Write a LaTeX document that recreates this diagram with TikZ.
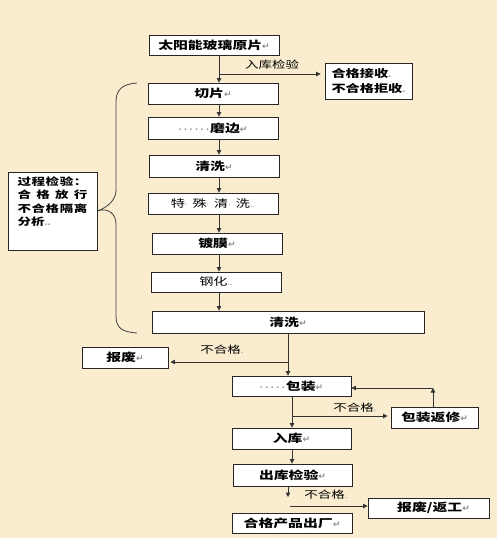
\documentclass[tikz,border=0pt]{standalone}
\usepackage{fontspec}
\newfontfamily\cjk[FakeStretch=1.35]{Noto Sans CJK SC}
\newfontfamily\djv{DejaVu Sans}
\usetikzlibrary{arrows.meta}
\definecolor{bg}{RGB}{249,236,207}
\definecolor{mk}{RGB}{140,140,140}
\newcommand\parmark{{\djv\fontsize{9}{9}\selectfont\color{mk}↵}}
\newcommand\smdot{{\djv\fontsize{8}{8}\selectfont\color{mk}.}}
\newcommand\gdot{{\djv\fontsize{8}{8}\selectfont\color{mk}·}}
\newcommand\gdots[1]{{\djv\fontsize{8}{8}\selectfont\color{mk}#1}}
\begin{document}
\begin{tikzpicture}[x=1pt,y=-1pt,
  box/.style={draw=black!85, line width=0.9pt, fill=white, inner sep=0pt,
    font=\cjk\bfseries\fontsize{11}{13}\selectfont},
  arr/.style={draw=black!80, line width=0.8pt, -{Triangle[width=4.5pt,length=4.5pt]}},
  lab/.style={font=\cjk\fontsize{10}{12}\selectfont, inner sep=0pt},
  brace/.style={draw=black!75, line width=0.8pt}]
\fill[bg] (0,0) rectangle (497,538);
\useasboundingbox (0,0) rectangle (497,538);

% boxes
\node[box, minimum width=130pt, minimum height=20pt] (raw) at (214,45) {太阳能玻璃原片\parmark};
\node[box, minimum width=87pt, minimum height=36pt, align=left,
  font=\cjk\bfseries\fontsize{10.5}{15}\selectfont] (accept) at (368.5,81) {合格接收\smdot\\不合格拒收\smdot};
\node[box, minimum width=130pt, minimum height=21pt] (cut) at (213,93.5) {切片\parmark};
\node[box, minimum width=130pt, minimum height=22pt] (grind) at (213,128) {\gdot\hspace{2.5pt}\gdot\hspace{2.5pt}\gdot\hspace{2.5pt}\gdot\hspace{2.5pt}\gdot\hspace{2.5pt}\gdot\hspace{1pt}磨边\parmark};
\node[box, minimum width=130pt, minimum height=22pt] (clean1) at (214,166) {清洗\parmark};
\node[box, minimum width=130pt, minimum height=21pt, font=\cjk\fontsize{10.5}{13}\selectfont] (special) at (213,203.5) {特\gdot\hspace{5pt}殊\gdot\hspace{5pt}清\gdot\hspace{5pt}洗\smdot\smdot};
\node[box, minimum width=130pt, minimum height=21pt] (coat) at (217,243.5) {镀膜\parmark};
\node[box, minimum width=130pt, minimum height=20pt, font=\cjk\fontsize{10.5}{13}\selectfont] (temper) at (216,282) {钢化\smdot\smdot};
\node[box, minimum width=272pt, minimum height=22pt] (clean2) at (288,322) {清洗\parmark};
\node[box, minimum width=86pt, minimum height=21pt] (scrap) at (125,357.5) {报废\parmark};
\node[box, minimum width=119pt, minimum height=20pt] (pack) at (291.5,386) {\gdot\hspace{2.5pt}\gdot\hspace{2.5pt}\gdot\hspace{2.5pt}\gdot\hspace{2.5pt}\gdot\hspace{1pt}包装\parmark};
\node[box, minimum width=87pt, minimum height=21pt] (repair) at (434.5,417.5) {包装返修\parmark};
\node[box, minimum width=119pt, minimum height=21pt] (store) at (291.5,438.5) {入库\parmark};
\node[box, minimum width=119pt, minimum height=22pt] (outcheck) at (292.5,475) {出库检验\parmark};
\node[box, minimum width=121pt, minimum height=20pt] (scrap2) at (428.5,508) {\hspace{10pt}报废/返工\parmark};
\node[box, minimum width=120pt, minimum height=20pt] (ship) at (292,523) {合格产品出厂\parmark};
\node[box, minimum width=89pt, minimum height=78pt,
  font=\cjk\bfseries\fontsize{10}{13.3}\selectfont] (check) at (52.5,211)
  {\parbox[t][68pt][t]{70pt}{\raggedright
   \makebox[70pt][s]{过\hfill 程\hfill 检\hfill 验\hfill ：}\\
   \makebox[70pt][s]{合\hfill 格\hfill 放\hfill 行}\\
   \makebox[70pt][s]{不\hfill 合\hfill 格\hfill 隔\hfill 离}\\
   分析\smdot\smdot}};

% brace
\draw[brace] (137,83) .. controls (122,84) and (116,90) .. (116,102) -- (116,190)
  .. controls (116,200) and (108,207) .. (check.east)
  .. controls (108,207) and (116,214) .. (116,224) -- (116,316)
  .. controls (116,328) and (122,332) .. (137,333);

% labels
\node[lab] (l1) at (272,65) {入库检验};
\node[lab] (l2) at (222,350) {不合格\smdot};
\node[lab] (l3) at (355,408) {不合格\smdot};
\node[lab] (l4) at (326,495) {不合格\smdot};

% connectors
\coordinate (sp) at (219,0);
\draw[arr] (raw.south -| sp) -- (cut.north -| sp);
\coordinate (b1) at (219,74);
\draw[arr, shorten >=4pt] (b1) -- (b1 -| accept.west);
\draw[arr] (cut.south -| sp) -- (grind.north -| sp);
\draw[arr] (grind.south -| sp) -- (clean1.north -| sp);
\draw[arr] (clean1.south -| sp) -- (special.north -| sp);
\draw[arr] (special.south -| sp) -- (coat.north -| sp);
\draw[arr] (coat.south -| sp) -- (temper.north -| sp);
\draw[arr] (temper.south -| sp) -- (clean2.north -| sp);
\coordinate (sp2) at (288,0);
\draw[arr] (clean2.south -| sp2) -- (pack.north -| sp2);
\coordinate (b2) at (288,362);
\draw[arr, shorten >=2pt] (b2) -- (b2 -| scrap.east);
\coordinate (sp3) at (292,0);
\draw[arr] (pack.south -| sp3) -- (store.north -| sp3);
\coordinate (b3) at (292,416);
\draw[arr, shorten >=3pt] (b3) -- (b3 -| repair.west);
\coordinate (c1) at (433,388);
\draw[arr] (repair.north -| c1) -- (c1);
\draw[arr] (c1) -- (c1 -| pack.east);
\draw[arr] (store.south -| sp3) -- (outcheck.north -| sp3);
\coordinate (e1) at (288,497);
\draw[arr] (outcheck.south -| e1) -- (e1);
\coordinate (s5) at (290,506);
\draw[arr] (s5) -- (s5 -| scrap2.west);
\end{tikzpicture}
\end{document}
